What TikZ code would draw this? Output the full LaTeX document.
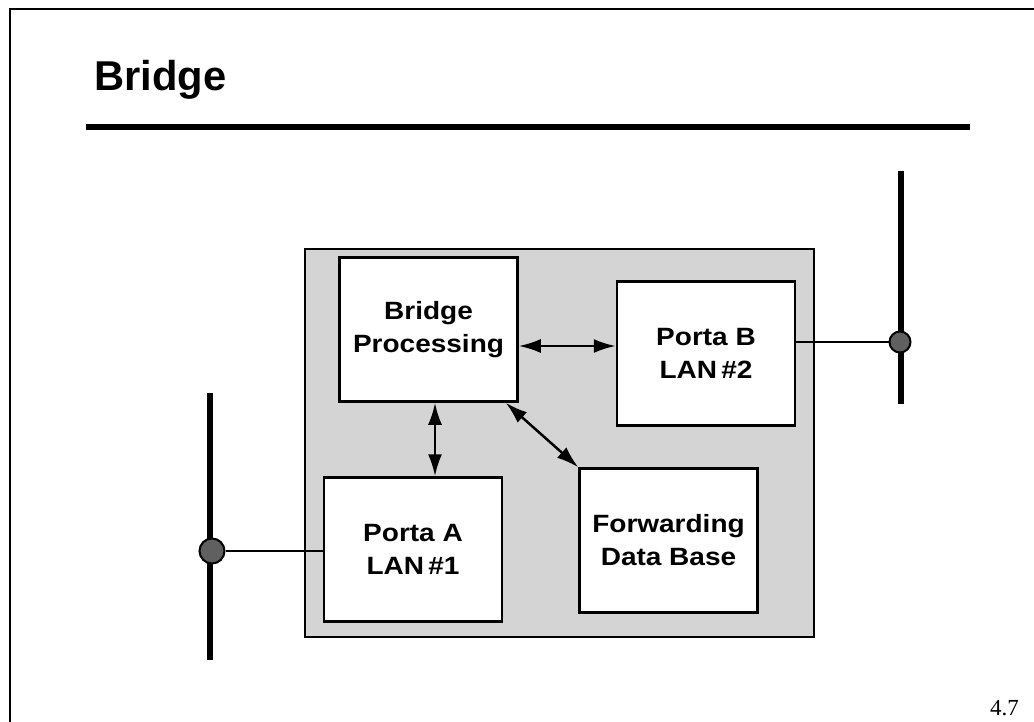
\documentclass[tikz,border=0pt]{standalone}
\usepackage{fontspec}
\usetikzlibrary{arrows.meta}
\newfontfamily\titlefont{Liberation Sans}
\newfontfamily\boxfont[FakeStretch=1.12]{Liberation Sans}
\newfontfamily\numfont{Liberation Serif}
\definecolor{panel}{RGB}{212,212,212}
\definecolor{tapgray}{RGB}{96,96,96}
\tikzset{
  blk/.style={draw, line width=2.5pt, fill=white, minimum width=178pt, minimum height=144pt,
    align=center, inner sep=0pt, font=\boxfont\bfseries\fontsize{25}{33}\selectfont},
  dbl/.style={line width=2.5pt, {Latex[length=22pt,width=14pt]}-{Latex[length=22pt,width=14pt]}},
  bus/.style={line width=5.5pt},
  tap/.style={circle, draw, line width=2pt, fill=tapgray, inner sep=0pt, minimum size=#1},
}
\begin{document}
\begin{tikzpicture}[x=1pt, y=-1pt]
\useasboundingbox (0,0) rectangle (1034,722);
\draw[line width=2.5pt] (10,730) -- (10,9) -- (1040,9);
\node[anchor=base west, inner sep=0pt, font=\titlefont\bfseries\fontsize{41.7}{50}\selectfont] (title) at (94,91) {Bridge};
\draw[line width=6.5pt] (86,127) -- (970,127);
\draw[line width=2.5pt, fill=panel] (305,249) rectangle (814,637);
\draw[bus] (210,393) -- (210,660);
\draw[bus] (901,171) -- (901,404);
\node[blk] (bp) at (428.5,329.5) {Bridge\\Processing};
\node[blk] (portb) at (706,353.5) {Porta B\\LAN\,\#2};
\node[blk] (porta) at (413,549.5) {Porta A\\LAN\,\#1};
\node[blk] (fwd) at (668.5,540.5) {Forwarding\\Data Base};
\node[tap=25pt] (tapa) at (212,551) {};
\node[tap=21pt] (tapb) at (900,342) {};
\draw[line width=2pt] (tapa) -- (tapa -| porta.west);
\draw[line width=2pt] (tapb) -- (tapb -| portb.east);
\coordinate (h) at ([yshift=-16.5pt]bp.east);
\draw[dbl] (h) -- (h -| portb.west);
\draw[dbl] ([xshift=6.5pt]bp.south) -- ([xshift=6.5pt]bp.south |- porta.north);
\draw[dbl] ([xshift=-13pt]bp.south east) -- (fwd.north west);
\node[anchor=base east, inner sep=0pt, font=\numfont\fontsize{23}{28}\selectfont] (pagenum) at (1019,715) {4.7};
\end{tikzpicture}
\end{document}
